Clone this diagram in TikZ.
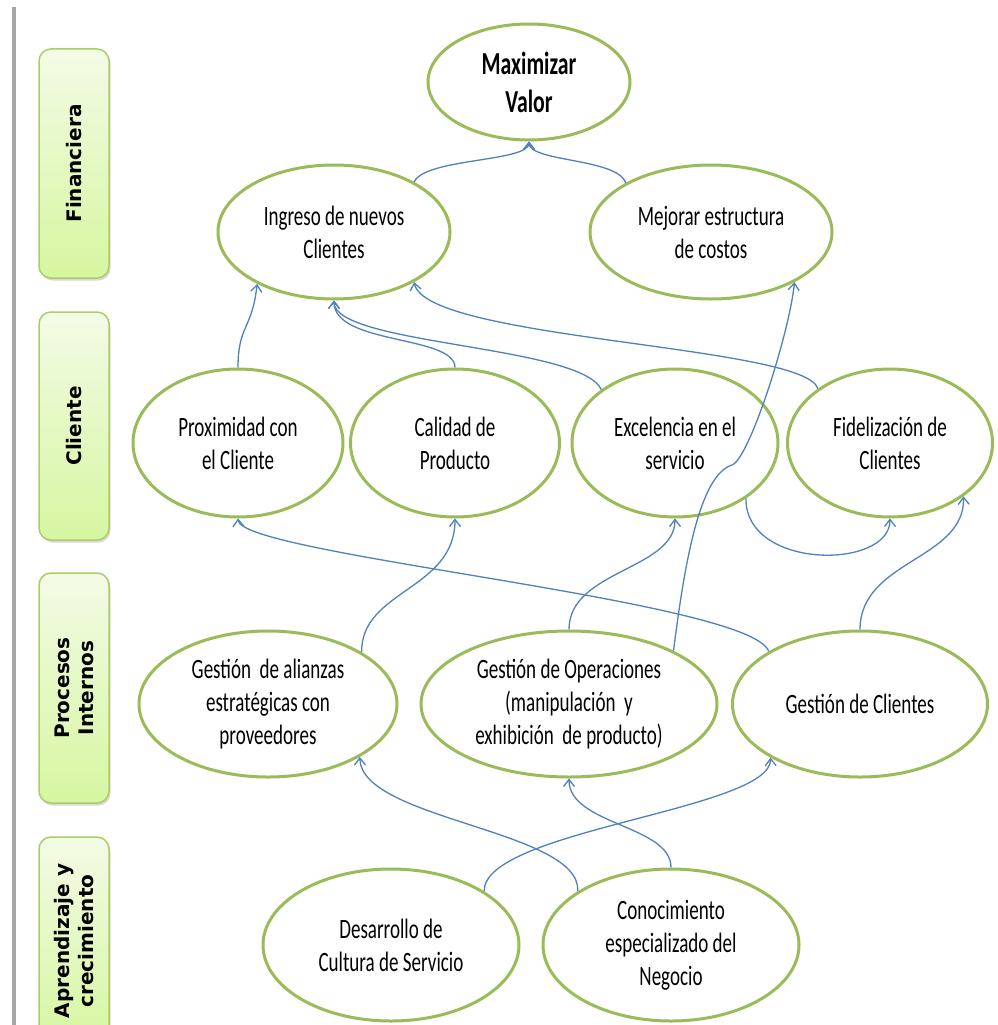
\documentclass[tikz,border=0pt]{standalone}
\usepackage{fontspec}
\setmainfont{Carlito}[FakeStretch=0.68]
\newfontfamily\labfont{DejaVu Sans}
\usetikzlibrary{shapes.geometric,arrows.meta,shadows}
\definecolor{ovalgreen}{RGB}{155,187,89}
\definecolor{connblue}{RGB}{79,129,189}
\definecolor{boxtop}{RGB}{243,251,230}
\definecolor{boxbot}{RGB}{214,246,160}
\definecolor{boxline}{RGB}{170,205,105}
\definecolor{railgray}{RGB}{165,165,165}
\begin{document}
\begin{tikzpicture}[x=1pt,y=1pt,
  oval/.style={ellipse, draw=ovalgreen, line width=3pt, fill=white, inner sep=0pt, align=center, font=\fontsize{28}{33}\selectfont},
  conn/.style={draw=connblue, line width=1.3pt, -{Straight Barb[length=7pt,width=11pt]}},
  sidebox/.style={rectangle, rounded corners=12pt, draw=boxline, line width=1.5pt, top color=boxtop, bottom color=boxbot, minimum width=70pt, drop shadow={shadow xshift=1.5pt, shadow yshift=-2.5pt, opacity=0.3}},
  sidelab/.style={rotate=90, align=center, inner sep=0pt, font=\labfont\bfseries\fontsize{20}{24}\selectfont}]
\useasboundingbox (0,0) rectangle (997,-1025);
\clip (0,0) rectangle (997,-1025);
\fill[white] (0,0) rectangle (997,-1025);
% left rail
\draw[railgray, line width=4pt] (13.5,-7) -- (13.5,-1030);
% side boxes
\node[sidebox, minimum height=229pt] (finbox) at (74,-163.5) {};
\node[sidebox, minimum height=228pt] (clibox) at (74,-426) {};
\node[sidebox, minimum height=230pt] (probox) at (74,-688) {};
\node[sidebox, minimum height=208pt] (aprbox) at (74,-941) {};
\node[sidelab] (finlab) at (finbox.center) {Financiera};
\node[sidelab] (clilab) at (clibox.center) {Cliente};
\node[sidelab] (prolab) at (probox.center) {Procesos\\Internos};
\node[sidelab] (aprlab) at (aprbox.center) {Aprendizaje y\\crecimiento};
% ovals
\node[oval, minimum width=202pt, minimum height=116pt, font=\fontsize{32}{38}\selectfont\bfseries] (max) at (529,-82) {Maximizar\\Valor};
\node[oval, minimum width=232pt, minimum height=134pt] (ing) at (334,-232) {Ingreso de nuevos\\Clientes};
\node[oval, minimum width=242pt, minimum height=134pt] (mej) at (711,-232) {Mejorar estructura\\de costos};
\node[oval, minimum width=210pt, minimum height=148pt] (prox) at (238,-443) {Proximidad con\\el Cliente};
\node[oval, minimum width=209pt, minimum height=148pt] (cal) at (455,-443) {Calidad de\\Producto};
\node[oval, minimum width=206pt, minimum height=148pt] (exc) at (675,-443) {Excelencia en el\\servicio};
\node[oval, minimum width=205pt, minimum height=148pt] (fid) at (890,-443) {Fidelización de\\Clientes};
\node[oval, minimum width=258pt, minimum height=146pt] (ali) at (268,-704) {Gestión~ de alianzas\\estratégicas con\\proveedores};
\node[oval, minimum width=296pt, minimum height=146pt] (ope) at (569,-704) {Gestión de Operaciones\\(manipulación~ y\\exhibición~ de producto)};
\node[oval, minimum width=255pt, minimum height=146pt] (gcl) at (860,-704) {Gestión de Clientes};
\node[oval, minimum width=256pt, minimum height=152pt] (des) at (391,-945) {Desarrollo de\\Cultura de Servicio};
\node[oval, minimum width=256pt, minimum height=152pt] (con) at (671,-945) {Conocimiento\\especializado del\\Negocio};
% connectors
\draw[conn] (ing.32) .. controls (425,-158) and (529,-162) .. (max.south);
\draw[conn] (mej.150) .. controls (617,-158) and (529,-162) .. (max.south);
\draw[conn] (prox.north) .. controls (238,-325) and (252,-330) .. (ing.214);
\draw[conn] (cal.north) .. controls (455,-335) and (334,-345) .. (ing.south);
\draw[conn] (exc.144) .. controls (580,-345) and (334,-345) .. (ing.south);
\draw[conn] (fid.143) .. controls (805,-345) and (425,-340) .. (ing.-32);
\draw[conn] (ope.27) .. controls (685,-560) and (700,-475) .. (732,-465) .. controls (750,-458) and (790,-330) .. (mej.-31);
\draw[conn] (ali.29) .. controls (361,-590) and (455,-590) .. (cal.south);
\draw[conn] (gcl.150) .. controls (750,-600) and (240,-555) .. (prox.south);
\draw[conn] (ope.north) .. controls (569,-570) and (675,-570) .. (exc.south);
\draw[conn] (exc.-38) .. controls (745,-570) and (890,-570) .. (fid.south);
\draw[conn] (gcl.north) .. controls (860,-560) and (965,-560) .. (fid.-36);
\draw[conn] (des.30) .. controls (483,-830) and (771,-810) .. (gcl.211);
\draw[conn] (con.150) .. controls (581,-830) and (361,-820) .. (ali.-30);
\draw[conn] (con.north) .. controls (671,-825) and (569,-825) .. (ope.south);
\end{tikzpicture}
\end{document}
